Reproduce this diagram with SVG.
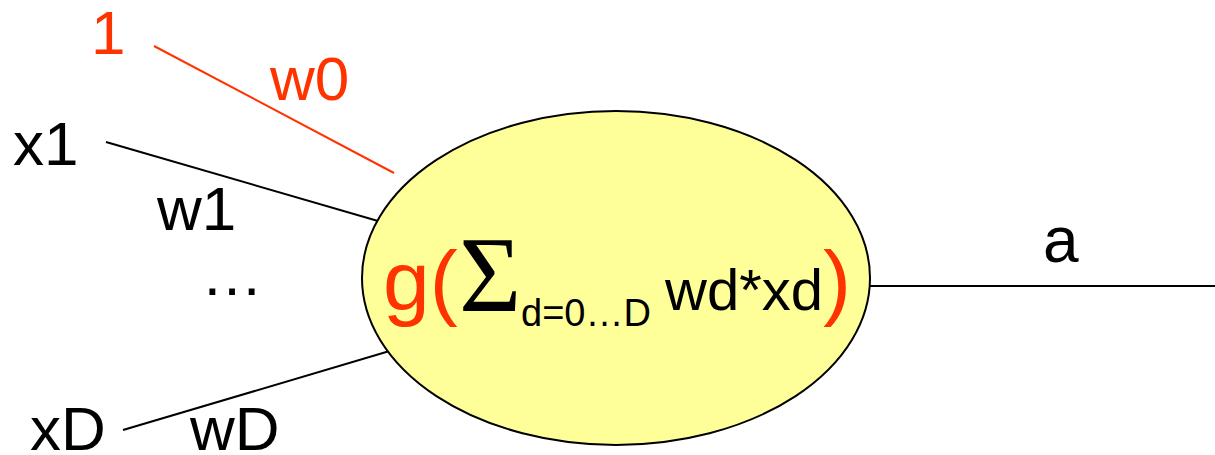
<svg xmlns="http://www.w3.org/2000/svg" width="1215" height="455" viewBox="0 0 1215 455">
<style>
.t{font-family:"Liberation Sans",Arial,sans-serif;font-size:62px;fill:#000}
.r{fill:#FF3300}
.ln{stroke:#000;stroke-width:2;fill:none}
.lr{stroke:#FF3300;stroke-width:2;fill:none}
</style>
<rect width="1215" height="455" fill="#fff"/>
<g id="connectors">
<line class="lr" x1="154" y1="46" x2="394" y2="173"/>
<line class="ln" x1="106" y1="142" x2="378" y2="221"/>
<line class="ln" x1="123" y1="430" x2="393" y2="350"/>
<line class="ln" x1="870" y1="286" x2="1215" y2="286"/>
</g>
<g id="neuron">
<ellipse cx="616" cy="278" rx="254" ry="167" fill="#FFFF99" stroke="#000" stroke-width="2"/>
<text class="t r" x="383" y="310" style="font-size:84px">g(</text>
<text x="459" y="311" style="font-family:'Liberation Serif','Times New Roman',serif;font-size:107px" fill="#000">Σ</text>
<text class="t" x="521" y="326" style="font-size:38px">d=0…D</text>
<text class="t" x="665" y="310" style="font-size:58px">wd*xd</text>
<text class="t r" x="823" y="310" style="font-size:84px">)</text>
</g>
<g id="input-bias">
<text class="t r" x="91" y="54">1</text>
<text class="t r" x="270" y="100">w0</text>
</g>
<g id="input-x1">
<text class="t" x="13" y="165">x1</text>
<text class="t" x="157" y="230">w1</text>
</g>
<g id="ellipsis">
<text class="t" x="201" y="295">…</text>
</g>
<g id="input-xD">
<text class="t" x="30" y="450">xD</text>
<text class="t" x="190" y="450">wD</text>
</g>
<g id="output">
<text class="t" x="1043" y="262" style="font-size:64px">a</text>
</g>
</svg>
